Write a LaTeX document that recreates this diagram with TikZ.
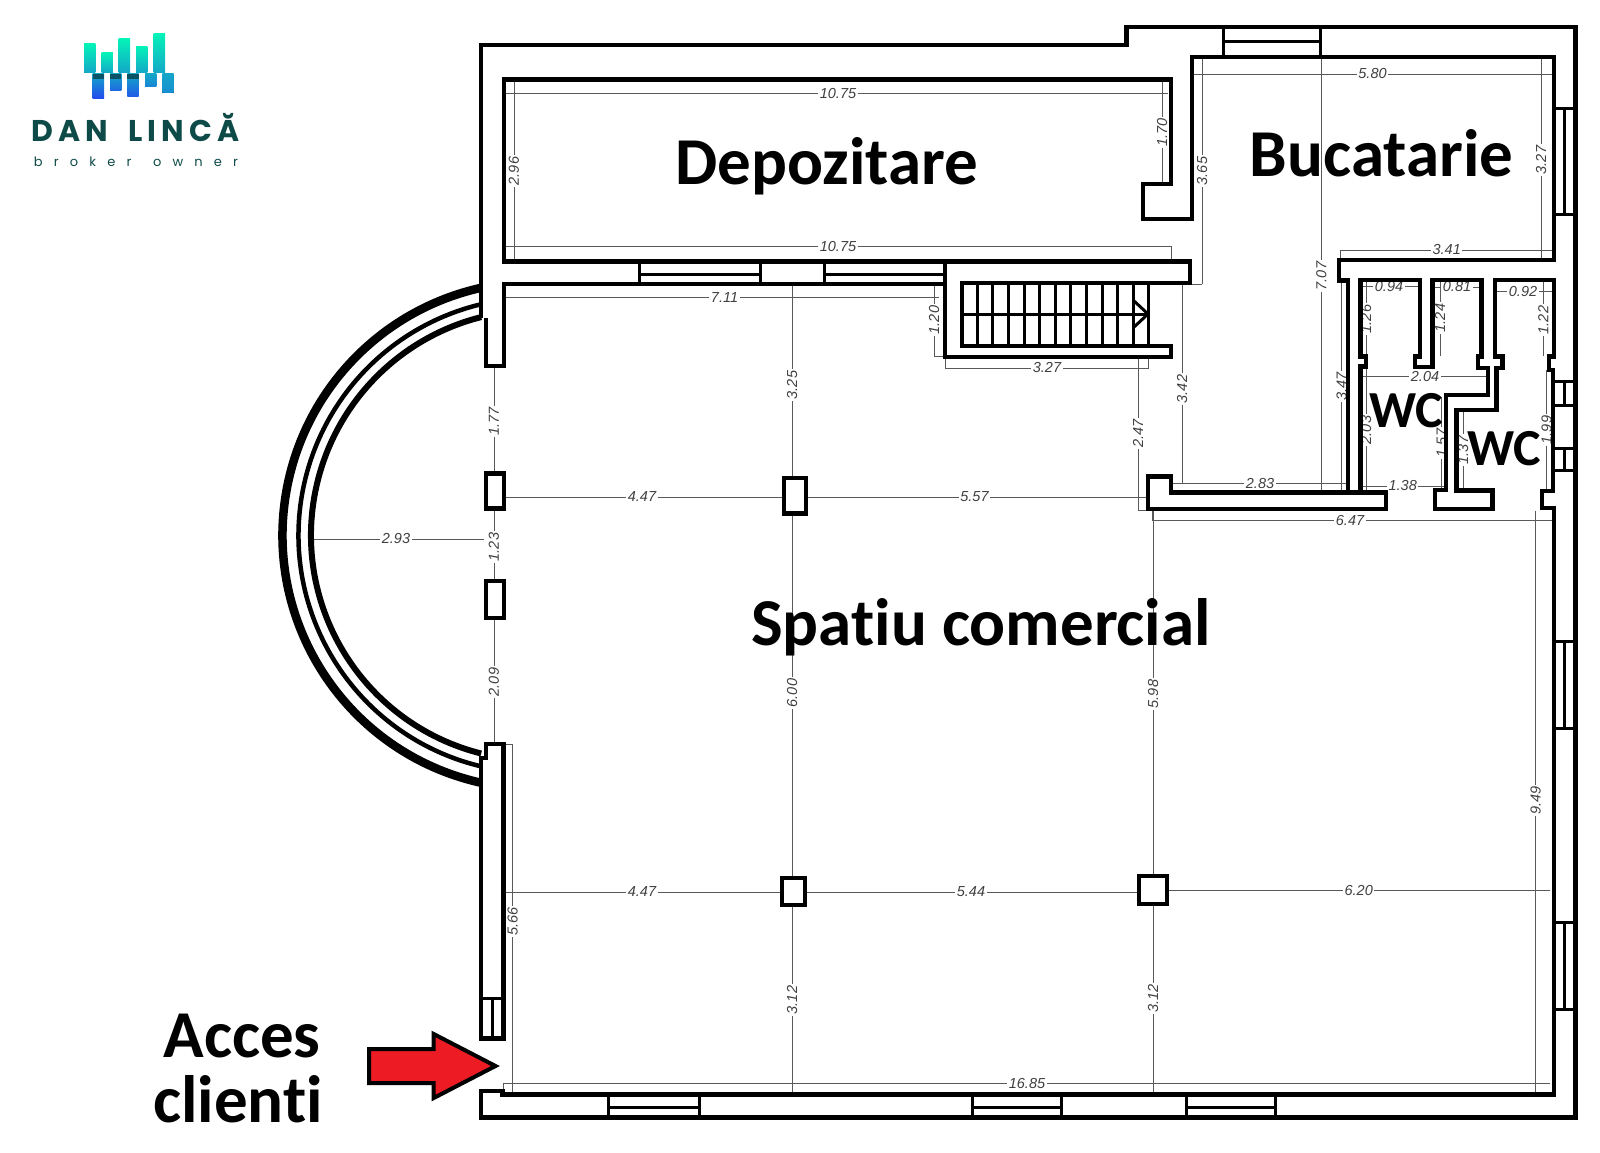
\documentclass[tikz,border=0pt]{standalone}
\usepackage{fontspec}
\usepackage{xcolor}
\setmainfont[Ligatures=NoCommon]{Carlito}
\newfontfamily\dimfont{Liberation Sans}
\newfontfamily\logofont[LetterSpace=17]{Poppins}
\newfontfamily\tagfont[LetterSpace=86]{Poppins}
\definecolor{logogreen}{HTML}{0E4B48}
\definecolor{barmint}{HTML}{05F2B8}
\definecolor{barteal}{HTML}{14A6C8}
\definecolor{barblue}{HTML}{2448F0}
\definecolor{accesred}{HTML}{ED1C24}

\tikzset{
	wall/.style = {line width=4.5pt, line join=miter},
	winline/.style = {line width=3pt},
	stairline/.style = {line width=3pt},
	dimline/.style = {draw=black!65, line width=0.9pt},
	dimlabel/.style = {fill=white, inner sep=1.5pt, text=black!75, font=\dimfont\itshape\fontsize{14.5}{14.5}\selectfont},
	roomlabel/.style = {font=\bfseries\fontsize{67}{67}\selectfont, inner sep=0pt},
	wclabel/.style = {font=\bfseries\fontsize{52}{52}\selectfont, inner sep=0pt},
	upperbar/.style = {top color=barmint, bottom color=barteal, draw=none}
}

\begin{document}
\begin{tikzpicture}[x=1pt, y=1pt, yscale=-1]
	\useasboundingbox (0,0) rectangle (1600,1153);

	% logo
	\foreach \xa/\ya in {84/44, 101.5/53, 118.7/39, 136/46.7, 153.7/34}
		\fill[upperbar] (\xa,\ya) rectangle (\xa+11.4,73);
	\foreach \xa/\yb/\mix in {92.7/99/100, 110/90.7/65, 127.3/96.3/80, 145/86.7/35, 162.3/92.7/25}
		\fill[top color=barteal, bottom color=barblue!\mix!barteal, draw=none] (\xa,74) rectangle (\xa+11.4,\yb);
	\foreach \xa in {92.7, 110, 127.3}
		\fill[black!50!barteal] (\xa,74) rectangle (\xa+11.4,79);
	\node[text=logogreen, font=\logofont\bfseries\fontsize{30}{30}\selectfont, inner sep=0pt] (logoname) at (135.5,128) {DAN \hspace{9pt}LINCĂ};
	\node[text=logogreen, font=\tagfont\fontsize{13}{13}\selectfont, inner sep=0pt] (logotag) at (136,162) {broker \hspace{7pt}owner};

	% dimension lines, vertical: x, from, to, label y, text
	\foreach \xa/\ya/\yb/\yl/\txt [count=\i] in {514/82/259/171/2.96, 1162/82/183/132.5/1.70, 792/285/478/385/3.25, 792/513.5/878/693/6.00,
		792/905/1094.6/1000/3.12, 1153/510.5/876/694/5.98, 1153/904/1094.6/998.5/3.12, 494/366/473.6/421.7/1.77,
		494/508.7/581/547/1.23, 494/618/744/682/2.09, 1138/358/510.5/433.6/2.47, 934/285.7/356.7/320/1.20,
		1182/283/483/389/3.42, 1202/59/284/171/3.65, 1541/59/258/160/3.27, 1321.4/57/490.7/276/7.07,
		1366/280/356/319/1.26, 1440/280/356/318/1.24, 1543.3/280/356/320/1.22, 1341.7/281/491/386.7/3.47,
		1366/368/491/430/2.03, 1441.7/396.7/490/443/1.57, 1463/410/490/450/1.37, 1546.7/370/490/430/1.99,
		512.7/744/1094/921.5/5.66, 1535.7/510.5/1094.6/800.5/9.49}
	{
		\draw[dimline] (\xa,\ya) -- (\xa,\yb);
		\node[dimlabel, rotate=90] (dimv\i) at (\xa,\yl) {\txt};
	}

	% dimension lines, horizontal: y, from, to, label x, text
	\foreach \ya/\xa/\xb/\xl/\txt [count=\i] in {93.6/506/1168/838/10.75, 246.4/506/1171/838/10.75, 297.5/505/939/724.5/7.11,
		539/312/484/396/2.93, 497/505/784/642/4.47, 497/806/1147/974.5/5.57, 368/945/1148.5/1047/3.27,
		74/1192/1552.6/1372.5/5.80, 250/1340/1554/1446.7/3.41, 286.7/1363/1420/1389/0.94, 287/1433/1481.7/1457/0.81,
		291.7/1497/1553/1523/0.92, 376.7/1361/1486.7/1425/2.04, 486/1361.7/1445/1402.7/1.38, 483.3/1172.7/1346.7/1260/2.83,
		520.7/1152.7/1554/1350/6.47, 892/505/782/642/4.47, 892/805/1139/971/5.44, 890.6/1167/1550/1358.7/6.20,
		1083/503.6/1550/1027/16.85}
	{
		\draw[dimline] (\xa,\ya) -- (\xb,\ya);
		\node[dimlabel] (dimh\i) at (\xl,\ya) {\txt};
	}

	% small turns at the ends of the dimension lines
	\draw[dimline] (1171,246.4) -- (1171,261);
	\draw[dimline] (1202,284) -- (1190,284);
	\draw[dimline] (1138,510.5) -- (1152.7,510.5) -- (1152.7,520.7);
	\draw[dimline] (934,356.7) -- (945,356.7);
	\draw[dimline] (945,357) -- (945,368);
	\draw[dimline] (1148.5,357) -- (1148.5,368);
	\draw[dimline] (1340,250) -- (1340,260);
	\draw[dimline] (503.6,1083) -- (503.6,1094);
	\draw[dimline] (504,744) -- (512.7,744);

	% walls
	\draw[wall] (481,318) -- (481,45) -- (1126.5,45) -- (1126.5,27) -- (1575.5,27) -- (1575.5,1117.6) -- (481,1117.6) -- (481,1091)
		-- (502.5,1091) -- (502.5,1094.6) -- (1554,1094.6) -- (1554,508) -- (1542,508) -- (1542,491) -- (1553,491) -- (1553,370)
		-- (1549,370) -- (1549,356.7) -- (1554,356.7) -- (1554,280) -- (1495,280) -- (1495,356.7) -- (1502.7,356.7) -- (1502.7,368)
		-- (1496.7,368) -- (1496.7,410) -- (1456.7,410) -- (1456.7,490.7) -- (1492.7,490.7) -- (1492.7,509) -- (1435,509) -- (1435,490)
		-- (1446,490) -- (1446,395) -- (1488,395) -- (1488,368) -- (1478,368) -- (1478,356.7) -- (1481.7,356.7) -- (1481.7,280)
		-- (1432.7,280) -- (1432.7,367) -- (1415,367) -- (1415,356.7) -- (1420,356.7) -- (1420,280) -- (1360.7,280) -- (1360.7,356.7)
		-- (1366,356.7) -- (1366,366.7) -- (1360.7,366.7) -- (1360.7,492.7) -- (1386,492.7) -- (1386,509) -- (1148,509) -- (1148,476.7)
		-- (1171,476.7) -- (1171,492.7) -- (1348,492.7) -- (1348,280.7) -- (1339,280.7) -- (1339,260) -- (1554,260) -- (1554,57)
		-- (1192,57) -- (1192,219) -- (1143,219) -- (1143,184) -- (1171,184) -- (1171,79.5) -- (504,79.5) -- (504,261.6) -- (945,261.6);
	\draw[wall] (945,284) -- (504,284) -- (504,366) -- (486,366) -- (486,318);
	\draw[wall] (1348,492.7) -- (1360.7,492.7);
	\draw[wall] (945,261.6) -- (1190,261.6) -- (1190,283) -- (962,283) -- (962,346) -- (1171,346) -- (1171,357) -- (945,357) -- cycle;
	\draw[wall] (481,758) -- (486,758) -- (486,744) -- (503.5,744) -- (503.5,1038.4) -- (481,1038.4) -- cycle;
	\draw[winline] (481,998.5) -- (503.5,998.5);
	\draw[winline] (492,998.5) -- (492,1038.4);

	% round bay
	\foreach \rad/\wid/\ang in {253.5/8.5/102.6, 237.5/4.5/103.4, 225/6/104.1}
		\draw[line width=\wid pt] (536,535.3) ++(\ang:\rad) arc[start angle=\ang, end angle=360-\ang, radius=\rad];

	% columns
	\foreach \xa/\ya/\xb/\yb in {486/473.6/504/508.7, 486/581/504/618, 784/478/806/513.5, 782/878/805/905}
		\draw[wall, fill=white] (\xa,\ya) rectangle (\xb,\yb);
	\draw[wall, fill=white] (1139,876) rectangle (1167,904);

	% windows in the horizontal walls
	\foreach \xa/\xb/\ya/\ym/\yb in {639/760/261.6/274/284, 824/945/261.6/274/284, 1223.5/1320/27/42/57,
		608.7/699/1094.6/1107/1117.6, 972/1061/1094.6/1107/1117.6, 1186/1275.5/1094.6/1107/1117.6}
	{
		\draw[winline] (\xa,\ya) -- (\xa,\yb);
		\draw[winline] (\xb,\ya) -- (\xb,\yb);
		\draw[winline] (\xa,\ym) -- (\xb,\ym);
	}

	% windows in the right wall
	\foreach \ya/\yb in {109/214, 381.7/405, 448/470, 641.4/728.4, 922.6/1009.6}
	{
		\draw[winline] (1554,\ya) -- (1575,\ya);
		\draw[winline] (1554,\yb) -- (1575,\yb);
		\draw[winline] (1564.5,\ya) -- (1564.5,\yb);
	}

	% stairs
	\foreach \xa in {977.3, 992.9, ..., 1150}
		\draw[stairline] (\xa,283) -- (\xa,346);
	\draw[stairline] (962,314) -- (1149,314);
	\draw[stairline] (1133,300) -- (1148,314) -- (1133,328);

	% room names
	\node[roomlabel] (store) at (827,166) {Depozitare};
	\node[roomlabel] (kitchen) at (1381.5,153) {Bucatarie};
	\node[roomlabel] (shop) at (981,627) {Spatiu comercial};
	\node[wclabel] (wcleft) at (1406,411) {WC};
	\node[wclabel] (wcright) at (1504,449) {WC};
	\node[roomlabel] (acces) at (242,1036) {Acces};
	\node[roomlabel] (clienti) at (238,1099) {clienti};

	% arrow for the entrance
	\draw[line width=4pt, fill=accesred, line join=miter] (369,1049) -- (433.7,1049) -- (433.7,1034) -- (495.5,1066) -- (433.7,1098)
		-- (433.7,1083) -- (369,1083) -- cycle;
\end{tikzpicture}
\end{document}
